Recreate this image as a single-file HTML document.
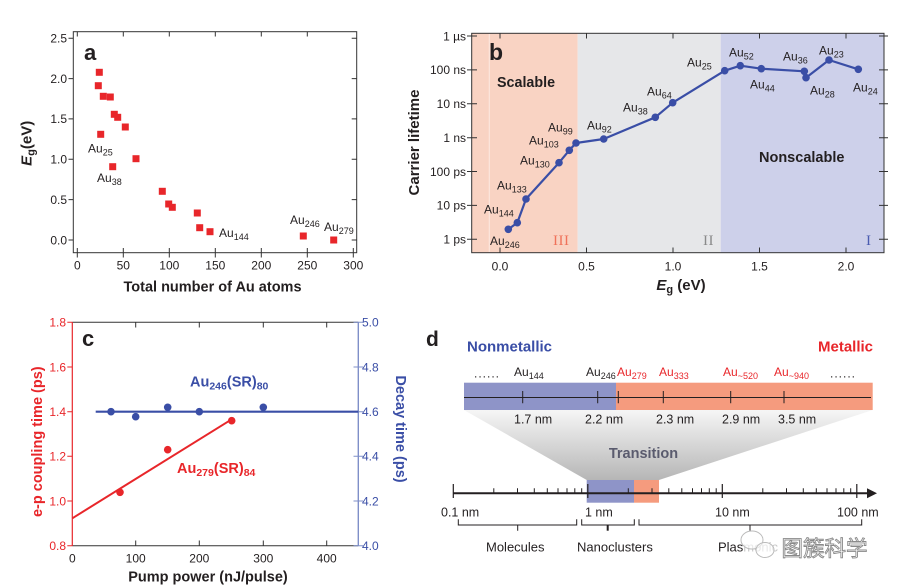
<!DOCTYPE html>
<html><head><meta charset="utf-8"><style>
html,body{margin:0;padding:0;background:#fff;}
svg{display:block;}
text{font-family:"Liberation Sans",sans-serif;}
</style></head><body>
<svg width="898" height="586" viewBox="0 0 898 586" xmlns="http://www.w3.org/2000/svg">
<defs>
<linearGradient id="tg" x1="0" y1="0" x2="0" y2="1">
<stop offset="0" stop-color="#f6f6f6"/><stop offset="1" stop-color="#b6b6b6"/>
</linearGradient>
</defs>

<!-- ===== Panel a ===== -->
<g fill="#231f20" font-size="12">
<rect x="73.3" y="31.7" width="283.4" height="221" fill="none" stroke="#333" stroke-width="1"/>
<g stroke="#333" stroke-width="1">
<path d="M68.5,240H73.3M68.5,199.6H73.3M68.5,159.3H73.3M68.5,118.9H73.3M68.5,78.6H73.3M68.5,38.2H73.3"/>
<path d="M351.7,240H356.7M351.7,199.6H356.7M351.7,159.3H356.7M351.7,118.9H356.7M351.7,78.6H356.7M351.7,38.2H356.7"/>
<path d="M77.3,252.7V257.5M123.3,252.7V257.5M169.3,252.7V257.5M215.3,252.7V257.5M261.3,252.7V257.5M307.3,252.7V257.5M353.3,252.7V257.5"/>
<path d="M77.3,252.7V248M123.3,252.7V248M169.3,252.7V248M215.3,252.7V248M261.3,252.7V248M307.3,252.7V248M353.3,252.7V248"/>
<path d="M77.3,31.7V36.5M123.3,31.7V36.5M169.3,31.7V36.5M215.3,31.7V36.5M261.3,31.7V36.5M307.3,31.7V36.5"/>
</g>
<g text-anchor="end">
<text x="67" y="244.3">0.0</text><text x="67" y="203.9">0.5</text><text x="67" y="163.6">1.0</text>
<text x="67" y="123.2">1.5</text><text x="67" y="82.9">2.0</text><text x="67" y="42.5">2.5</text>
</g>
<g text-anchor="middle">
<text x="77.3" y="269.5">0</text><text x="123.3" y="269.5">50</text><text x="169.3" y="269.5">100</text>
<text x="215.3" y="269.5">150</text><text x="261.3" y="269.5">200</text><text x="307.3" y="269.5">250</text><text x="353.3" y="269.5">300</text>
</g>
<text x="212.5" y="291.5" text-anchor="middle" font-weight="bold" font-size="14.5">Total number of Au atoms</text>
<text transform="rotate(-90 31.7 143.3)" x="31.7" y="143.3" text-anchor="middle" font-weight="bold" font-size="15"><tspan font-style="italic">E</tspan><tspan font-size="11" dy="3">g</tspan><tspan dy="-3">(eV)</tspan></text>
<text x="84" y="60" font-weight="bold" font-size="22">a</text>
<g fill="#e8262a">
<rect x="95.8" y="68.8" width="7" height="7"/><rect x="94.8" y="82.2" width="7" height="7"/>
<rect x="99.8" y="92.8" width="7" height="7"/><rect x="106.8" y="93.5" width="7" height="7"/>
<rect x="110.8" y="110.8" width="7" height="7"/><rect x="114.2" y="113.8" width="7" height="7"/>
<rect x="121.8" y="123.5" width="7" height="7"/><rect x="97.2" y="130.8" width="7" height="7"/>
<rect x="132.5" y="155.2" width="7" height="7"/><rect x="109.2" y="163.2" width="7" height="7"/>
<rect x="158.8" y="187.8" width="7" height="7"/><rect x="165.2" y="200.5" width="7" height="7"/>
<rect x="168.8" y="203.8" width="7" height="7"/><rect x="193.8" y="209.5" width="7" height="7"/>
<rect x="196.2" y="224.2" width="7" height="7"/><rect x="206.5" y="228.2" width="7" height="7"/>
<rect x="299.8" y="232.5" width="7" height="7"/><rect x="330.2" y="236.5" width="7" height="7"/>
</g>
<text x="88" y="152.5">Au<tspan font-size="9" dy="3">25</tspan></text>
<text x="97" y="182">Au<tspan font-size="9" dy="3">38</tspan></text>
<text x="219" y="237">Au<tspan font-size="9" dy="3">144</tspan></text>
<text x="290" y="224">Au<tspan font-size="9" dy="3">246</tspan></text>
<text x="324" y="231">Au<tspan font-size="9" dy="3">279</tspan></text>
</g>

<!-- ===== Panel b ===== -->
<g fill="#231f20" font-size="12">
<rect x="471.7" y="33.3" width="106" height="219.4" fill="#f9d3c3"/>
<rect x="577.7" y="33.3" width="143" height="219.4" fill="#e6e7e9"/>
<rect x="720.7" y="33.3" width="163.3" height="219.4" fill="#cdd0ea"/>
<line x1="489.3" y1="34" x2="489.3" y2="252" stroke="#fce6dc" stroke-width="1.2"/>
<rect x="471.7" y="33.3" width="412.3" height="219.4" fill="none" stroke="#333" stroke-width="1"/>
<g stroke="#333" stroke-width="1">
<path d="M467,239.3H477M467,205.4H477M467,171.5H477M467,137.7H477M467,103.8H477M467,69.9H477M467,36H477"/>
<path d="M879,239.3H888M879,205.4H888M879,171.5H888M879,137.7H888M879,103.8H888M879,69.9H888M879,36H888"/>
<path d="M500,33.3V38.5M586.5,33.3V38.5M673,33.3V38.5M759.5,33.3V38.5M846,33.3V38.5"/>
<path d="M500,252.7V247.5M586.5,252.7V247.5M673,252.7V247.5M759.5,252.7V247.5M846,252.7V247.5"/>
</g>
<g text-anchor="end">
<text x="466" y="243.6">1 ps</text><text x="466" y="209.7">10 ps</text><text x="466" y="175.8">100 ps</text>
<text x="466" y="142">1 ns</text><text x="466" y="108.1">10 ns</text><text x="466" y="74.2">100 ns</text><text x="466" y="40.3">1 µs</text>
</g>
<g text-anchor="middle">
<text x="500" y="270.5">0.0</text><text x="586.5" y="270.5">0.5</text><text x="673" y="270.5">1.0</text>
<text x="759.5" y="270.5">1.5</text><text x="846" y="270.5">2.0</text>
</g>
<text x="681" y="290" text-anchor="middle" font-weight="bold" font-size="15"><tspan font-style="italic">E</tspan><tspan font-size="11" dy="3">g</tspan><tspan dy="-3"> (eV)</tspan></text>
<text transform="rotate(-90 419 142.5)" x="419" y="142.5" text-anchor="middle" font-weight="bold" font-size="15">Carrier lifetime</text>
<text x="489" y="60" font-weight="bold" font-size="23">b</text>
<text x="497" y="87" font-weight="bold" font-size="14.3">Scalable</text>
<text x="759" y="162" font-weight="bold" font-size="14.5">Nonscalable</text>
<text x="553" y="245" style="font-family:'Liberation Serif',serif;" font-size="15" fill="#f0725a" letter-spacing="0.5">III</text>
<text x="703" y="245" style="font-family:'Liberation Serif',serif;" font-size="15" fill="#8a8a8a" letter-spacing="0.5">II</text>
<text x="866" y="245" style="font-family:'Liberation Serif',serif;" font-size="15" fill="#4a5bb0">I</text>
<polyline fill="none" stroke="#3a4ea6" stroke-width="2.2" stroke-linejoin="round" points="508.3,229.3 517.3,222.7 526,199 559,162.7 569.3,150.3 576,143 603.7,139 655.3,117.3 672.7,102.7 724.7,70.7 740.3,65.7 761.3,68.7 804.3,71.3 806,77.7 829,60 858.3,69.3"/>
<g fill="#3a4ea6">
<circle cx="508.3" cy="229.3" r="3.8"/><circle cx="517.3" cy="222.7" r="3.8"/><circle cx="526" cy="199" r="3.8"/>
<circle cx="559" cy="162.7" r="3.8"/><circle cx="569.3" cy="150.3" r="3.8"/><circle cx="576" cy="143" r="3.8"/>
<circle cx="603.7" cy="139" r="3.8"/><circle cx="655.3" cy="117.3" r="3.8"/><circle cx="672.7" cy="102.7" r="3.8"/>
<circle cx="724.7" cy="70.7" r="3.8"/><circle cx="740.3" cy="65.7" r="3.8"/><circle cx="761.3" cy="68.7" r="3.8"/>
<circle cx="804.3" cy="71.3" r="3.8"/><circle cx="806" cy="77.7" r="3.8"/><circle cx="829" cy="60" r="3.8"/>
<circle cx="858.3" cy="69.3" r="3.8"/>
</g>
<text x="687" y="66.5">Au<tspan font-size="9" dy="3">25</tspan></text>
<text x="729" y="56.5">Au<tspan font-size="9" dy="3">52</tspan></text>
<text x="783" y="60.5">Au<tspan font-size="9" dy="3">36</tspan></text>
<text x="819" y="54.5">Au<tspan font-size="9" dy="3">23</tspan></text>
<text x="750" y="88.5">Au<tspan font-size="9" dy="3">44</tspan></text>
<text x="810" y="94.5">Au<tspan font-size="9" dy="3">28</tspan></text>
<text x="853" y="91.5">Au<tspan font-size="9" dy="3">24</tspan></text>
<text x="647" y="95.5">Au<tspan font-size="9" dy="3">64</tspan></text>
<text x="623" y="111.5">Au<tspan font-size="9" dy="3">38</tspan></text>
<text x="587" y="129.5">Au<tspan font-size="9" dy="3">92</tspan></text>
<text x="548" y="131.5">Au<tspan font-size="9" dy="3">99</tspan></text>
<text x="529" y="144.5">Au<tspan font-size="9" dy="3">103</tspan></text>
<text x="520" y="164.5">Au<tspan font-size="9" dy="3">130</tspan></text>
<text x="497" y="189.5">Au<tspan font-size="9" dy="3">133</tspan></text>
<text x="484" y="213.5">Au<tspan font-size="9" dy="3">144</tspan></text>
<text x="490" y="245">Au<tspan font-size="9" dy="3">246</tspan></text>
</g>

<!-- ===== Panel c ===== -->
<g font-size="12">
<line x1="72.3" y1="322.3" x2="358.3" y2="322.3" stroke="#333" stroke-width="1"/>
<line x1="72.3" y1="545.7" x2="358.3" y2="545.7" stroke="#333" stroke-width="1"/>
<line x1="72.3" y1="322.3" x2="72.3" y2="545.7" stroke="#e8262a" stroke-width="1.2"/>
<line x1="358.3" y1="322.3" x2="358.3" y2="545.7" stroke="#7f8fc8" stroke-width="1.4"/>
<path d="M67.3,322.3H72.3M67.3,367H72.3M67.3,411.7H72.3M67.3,456.3H72.3M67.3,501H72.3M67.3,545.7H72.3" stroke="#e8262a" stroke-width="1"/>
<path d="M353.5,322.3H363M353.5,367H363M353.5,411.7H363M353.5,456.3H363M353.5,501H363M353.5,545.7H363" stroke="#7f8fc8" stroke-width="1"/>
<path d="M135.7,545.7V540.5M199.3,545.7V540.5M263.3,545.7V540.5M326.7,545.7V540.5M135.7,322.3V327.5M199.3,322.3V327.5M263.3,322.3V327.5M326.7,322.3V327.5" stroke="#333" stroke-width="1"/>
<g text-anchor="end" fill="#e8262a">
<text x="66" y="326.6">1.8</text><text x="66" y="371.3">1.6</text><text x="66" y="416">1.4</text>
<text x="66" y="460.6">1.2</text><text x="66" y="505.3">1.0</text><text x="66" y="550">0.8</text>
</g>
<g fill="#3a4ea6">
<text x="362" y="326.6">5.0</text><text x="362" y="371.3">4.8</text><text x="362" y="416">4.6</text>
<text x="362" y="460.6">4.4</text><text x="362" y="505.3">4.2</text><text x="362" y="550">4.0</text>
</g>
<g text-anchor="middle" fill="#231f20">
<text x="72.3" y="562.5">0</text><text x="135.7" y="562.5">100</text><text x="199.3" y="562.5">200</text>
<text x="263.3" y="562.5">300</text><text x="326.7" y="562.5">400</text>
</g>
<text x="208" y="581.5" text-anchor="middle" font-weight="bold" font-size="14.5" fill="#231f20">Pump power (nJ/pulse)</text>
<text transform="rotate(-90 42 441.7)" x="42" y="441.7" text-anchor="middle" font-weight="bold" font-size="14.5" fill="#e8262a">e-p coupling time (ps)</text>
<text transform="rotate(90 396 429)" x="396" y="429" text-anchor="middle" font-weight="bold" font-size="14.5" fill="#3a4ea6">Decay time (ps)</text>
<text x="82" y="346" font-weight="bold" font-size="22" fill="#231f20">c</text>
<line x1="95.7" y1="411.7" x2="358.3" y2="411.7" stroke="#3a4ea6" stroke-width="2.2"/>
<line x1="72.3" y1="518.3" x2="231.7" y2="419.3" stroke="#e8262a" stroke-width="2"/>
<g fill="#3a4ea6">
<circle cx="111" cy="411.7" r="3.8"/><circle cx="135.7" cy="416.7" r="3.8"/><circle cx="167.7" cy="407.3" r="3.8"/>
<circle cx="199.3" cy="411.7" r="3.8"/><circle cx="263.3" cy="407.3" r="3.8"/>
</g>
<g fill="#e8262a">
<circle cx="120" cy="492.3" r="3.8"/><circle cx="167.7" cy="449.7" r="3.8"/><circle cx="231.7" cy="420.7" r="3.8"/>
</g>
<text x="190" y="386.7" font-weight="bold" font-size="14.5" fill="#3a4ea6">Au<tspan font-size="10.5" dy="3">246</tspan><tspan dy="-3">(SR)</tspan><tspan font-size="10.5" dy="3">80</tspan></text>
<text x="177" y="473" font-weight="bold" font-size="14.5" fill="#e8262a">Au<tspan font-size="10.5" dy="3">279</tspan><tspan dy="-3">(SR)</tspan><tspan font-size="10.5" dy="3">84</tspan></text>
</g>

<!-- ===== Panel d ===== -->
<g font-size="12" fill="#231f20">
<text x="426" y="346" font-weight="bold" font-size="21">d</text>
<text x="467" y="351.5" font-weight="bold" font-size="15" fill="#3a4ea6">Nonmetallic</text>
<text x="818" y="351.5" font-weight="bold" font-size="15" fill="#e8262a">Metallic</text>
<polygon points="464,410 872.7,410 659,480 586.7,480" fill="url(#tg)"/>
<rect x="464" y="382.7" width="152" height="27.3" fill="#8e94c8"/>
<rect x="616" y="382.7" width="256.7" height="27.3" fill="#f59b7e"/>
<line x1="464" y1="397.5" x2="871" y2="397.5" stroke="#231f20" stroke-width="1"/>
<path d="M522.7,391V403.3M597.7,391V403.3M618.3,391V403.3M663.3,391V403.3M730.7,391V403.3M784,391V403.3" stroke="#231f20" stroke-width="1"/>
<text x="474" y="377.7" letter-spacing="1">......</text>
<text x="514" y="376">Au<tspan font-size="9" dy="3">144</tspan></text>
<text x="586" y="376">Au<tspan font-size="9" dy="3">246</tspan></text>
<g fill="#e8262a">
<text x="617" y="376">Au<tspan font-size="9" dy="3">279</tspan></text>
<text x="659" y="376">Au<tspan font-size="9" dy="3">333</tspan></text>
<text x="723" y="376">Au<tspan font-size="9" dy="3">~520</tspan></text>
<text x="774" y="376">Au<tspan font-size="9" dy="3">~940</tspan></text>
</g>
<text x="830" y="377.7" letter-spacing="1">......</text>
<g font-size="12.5">
<text x="514" y="423.5">1.7 nm</text><text x="585" y="423.5">2.2 nm</text><text x="656" y="423.5">2.3 nm</text>
<text x="722" y="423.5">2.9 nm</text><text x="778" y="423.5">3.5 nm</text>
</g>
<text x="643.5" y="458" text-anchor="middle" font-weight="bold" font-size="14.5" fill="#5a5b6e">Transition</text>
<rect x="586.7" y="480" width="47.3" height="22.7" fill="#8e94c8"/>
<rect x="634" y="480" width="25" height="22.7" fill="#f59b7e"/>
<line x1="453.3" y1="493.3" x2="871" y2="493.3" stroke="#231f20" stroke-width="2"/>
<polygon points="867,488.3 877,493.3 867,498.3" fill="#231f20"/>
<path d="M453.3,484V498M587.8,484V498M722.3,484V498M856.8,484V498" stroke="#231f20" stroke-width="1.2"/>
<path stroke="#231f20" stroke-width="1" d="M493.8,488.3V493M517.5,488.3V493M534.3,488.3V493M547.3,488.3V493M558,488.3V493M567,488.3V493M574.8,488.3V493M581.7,488.3V493
M628.3,488.3V493M652,488.3V493M668.8,488.3V493M681.8,488.3V493M692.5,488.3V493M701.5,488.3V493M709.3,488.3V493M716.2,488.3V493
M762.8,488.3V493M786.5,488.3V493M803.3,488.3V493M816.3,488.3V493M827,488.3V493M836,488.3V493M843.8,488.3V493M850.7,488.3V493"/>
<g font-size="12.5">
<text x="441" y="516.7">0.1 nm</text><text x="585" y="516.7">1 nm</text><text x="715" y="516.7">10 nm</text><text x="837" y="516.7">100 nm</text>
</g>
<path fill="none" stroke="#231f20" stroke-width="1" d="M458.3,519.3V525H576.7V519.3M517.7,525V530.7M581.7,519.3V525H634.3V519.3M639,519.3V525H861.7V519.3M750,525V530.7"/>
<path d="M607.7,525V530.7" stroke="#231f20" stroke-width="2"/>
<g font-size="13">
<text x="486" y="551.5">Molecules</text><text x="577" y="551.5">Nanoclusters</text>
<text x="718" y="551.5">Plas<tspan fill="#c8c8c8">monic</tspan></text>
</g>
<!-- watermark -->
<ellipse cx="752" cy="540" rx="11" ry="9" fill="#fff" fill-opacity="0.6" stroke="#bbb" stroke-width="1"/>
<ellipse cx="765" cy="550" rx="9" ry="7.5" fill="#fff" fill-opacity="0.6" stroke="#bbb" stroke-width="1"/>
<text x="781.5" y="556" style="font-family:'Liberation Sans','Noto Sans CJK SC',sans-serif;" font-size="21.5" fill="#fff" stroke="#8a8a8a" stroke-width="0.9">图簇科学</text>
</g>
</svg>
</body></html>
